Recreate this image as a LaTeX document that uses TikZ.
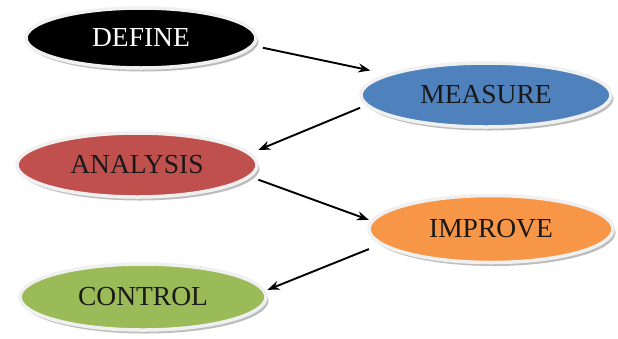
\documentclass[tikz,border=0pt]{standalone}
\usepackage{fontspec}
\setmainfont{Liberation Serif}
\usetikzlibrary{shapes.geometric,shadows,arrows.meta}
\definecolor{cblue}{RGB}{79,129,189}
\definecolor{cred}{RGB}{192,80,77}
\definecolor{corange}{RGB}{247,150,70}
\definecolor{cgreen}{RGB}{155,187,89}
\tikzset{
  phase/.style={ellipse, inner sep=0pt, draw=gray!12, line width=3.5pt,
    font=\fontsize{27.5}{29}\selectfont,
    drop shadow={shadow xshift=2.5pt, shadow yshift=-3.5pt, fill=gray!60, opacity=0.85}},
  arr/.style={line width=1.9pt, -{Stealth[length=12pt,width=9pt]}}
}
\begin{document}
\begin{tikzpicture}[x=1pt,y=-1pt]
\useasboundingbox[fill=white] (0,0) rectangle (618,338);
\node[phase, fill=black, text=white, minimum width=230pt, minimum height=60pt] (define) at (141,38) {DEFINE};
\node[phase, fill=cblue, text=black!90, minimum width=250pt, minimum height=64pt] (measure) at (486,95) {MEASURE};
\node[phase, fill=cred, text=black!90, minimum width=240pt, minimum height=64pt] (analysis) at (137,165) {ANALYSIS};
\node[phase, fill=corange, text=black!90, minimum width=244pt, minimum height=67pt] (improve) at (491,229) {IMPROVE};
\node[phase, fill=cgreen, text=black!90, minimum width=246pt, minimum height=66pt] (control) at (143,297) {CONTROL};
\draw[arr, shorten <=9pt, shorten >=17pt] (define.-4) -- (measure.168);
\draw[arr, shorten <=6pt, shorten >=8pt] (measure.-175.6) -- (analysis.6.7);
\draw[arr, shorten <=8pt, shorten >=2pt] (analysis.-6.7) -- (improve.176.3);
\draw[arr, shorten <=12pt, shorten >=2pt] (improve.188.3) -- (control.3.2);
\end{tikzpicture}
\end{document}
